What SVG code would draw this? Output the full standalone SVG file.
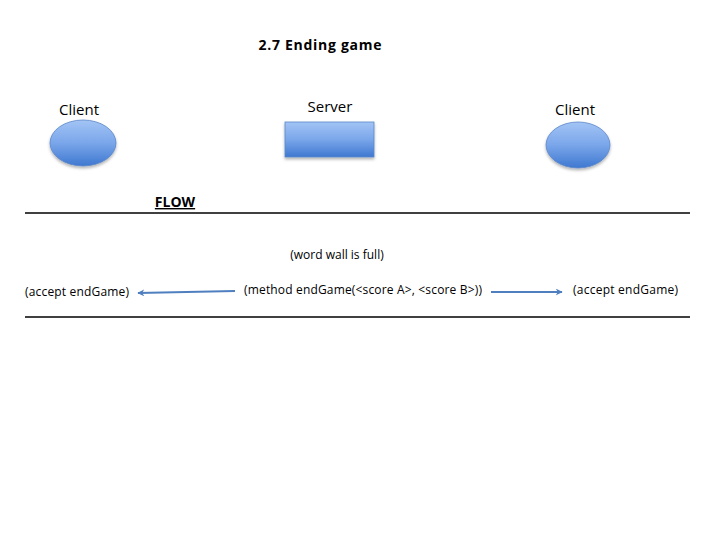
<svg xmlns="http://www.w3.org/2000/svg" width="720" height="540" viewBox="0 0 720 540">
<defs>
<linearGradient id="blue" x1="0" y1="0" x2="0" y2="1">
<stop offset="0" stop-color="#a3c4f5"/>
<stop offset="0.5" stop-color="#7aa6ea"/>
<stop offset="1" stop-color="#3f78d0"/>
</linearGradient>
<marker id="arr" viewBox="0 0 10 10" refX="9" refY="5" markerWidth="7" markerHeight="7" orient="auto" markerUnits="userSpaceOnUse">
<path d="M0,0 L10,5 L0,10 L3,5 Z" fill="#4f7fbf"/>
</marker>
<filter id="sh" x="-20%" y="-20%" width="140%" height="150%">
<feDropShadow dx="0" dy="2" stdDeviation="1.5" flood-color="#000" flood-opacity="0.3"/>
</filter>
</defs>
<style>
text{font-family:"Open Sans","Liberation Sans",sans-serif;fill:#000}
.lbl{font-size:15px}
.sm{font-size:12px}
.shape{fill:url(#blue);stroke:#5a87c8;stroke-width:0.8;filter:url(#sh)}
.rule{stroke:#000;stroke-width:1.6}
.conn{stroke:#4f7fbf;stroke-width:2;fill:none;marker-end:url(#arr)}
</style>
<rect width="720" height="540" fill="#fff"/>
<text x="320" y="50" text-anchor="middle" font-size="14" font-weight="bold" textLength="123">2.7 Ending game</text>
<g id="client-left">
<ellipse class="shape" cx="83" cy="143" rx="33" ry="23"/>
<text class="lbl" x="79" y="115" text-anchor="middle">Client</text>
</g>
<g id="server">
<rect class="shape" x="285" y="122" width="89" height="35"/>
<text class="lbl" x="330" y="112" text-anchor="middle">Server</text>
</g>
<g id="client-right">
<ellipse class="shape" cx="578" cy="145" rx="32" ry="23"/>
<text class="lbl" x="575" y="115" text-anchor="middle">Client</text>
</g>
<g id="flow">
<line class="rule" x1="25" y1="213" x2="690" y2="213"/>
<text x="175" y="207" text-anchor="middle" font-size="14" font-weight="bold" text-decoration="underline">FLOW</text>
<line class="rule" x1="25" y1="317" x2="690" y2="317"/>
</g>
<g id="labels">
<text class="sm" x="337" y="259" text-anchor="middle">(word wall is full)</text>
<text class="sm" x="25" y="296" textLength="104">(accept endGame)</text>
<text class="sm" x="244" y="294" textLength="238">(method endGame(&lt;score A&gt;, &lt;score B&gt;))</text>
<text class="sm" x="573" y="294" textLength="105">(accept endGame)</text>
</g>
<g id="connectors">
<line class="conn" x1="235" y1="291" x2="138" y2="293"/>
<line class="conn" x1="491" y1="292" x2="562" y2="292"/>
</g>
</svg>
